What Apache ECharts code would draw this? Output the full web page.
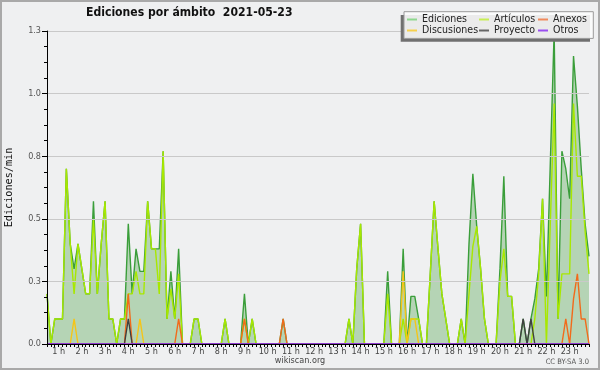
<!DOCTYPE html>
<html><head><meta charset="utf-8">
<script src="https://cdn.jsdelivr.net/npm/echarts@6/dist/echarts.min.js"></script>
<style>html,body{margin:0;padding:0;background:#eff0f1}#c{width:600px;height:370px}</style>
</head><body><div id="c"></div>
<script>
// x-axis tick labels (one per hour, centred on the half hour)
const hourLabels = ['1 h','2 h','3 h','4 h','5 h','6 h','7 h','8 h','9 h','10 h','11 h','12 h',
  '13 h','14 h','15 h','16 h','17 h','18 h','19 h','20 h','21 h','22 h','23 h'];
const slotCount = 141; // 10-minute slots from 00:00 to 23:20
const slots = [];
for (let i = 0; i < slotCount; i++) {
  const m = i * 10;
  slots.push(String(Math.floor(m / 60)).padStart(2, '0') + ':' + String(m % 60).padStart(2, '0'));
}

const ediciones = [
  0.2, 0, 0.1, 0.1, 0.1, 0.7, 0.4, 0.3, 0.4, 0.3,
  0.2, 0.2, 0.57, 0.2, 0.4, 0.57, 0.1, 0.1, 0, 0.1,
  0.1, 0.48, 0.2, 0.38, 0.29, 0.29, 0.57, 0.38, 0.38, 0.38,
  0.77, 0.1, 0.29, 0.1, 0.38, 0, 0, 0, 0.1, 0.1,
  0, 0, 0, 0, 0, 0, 0.1, 0, 0, 0,
  0, 0.2, 0, 0.1, 0, 0, 0, 0, 0, 0,
  0, 0.1, 0, 0, 0, 0, 0, 0, 0, 0,
  0, 0, 0, 0, 0, 0, 0, 0, 0.1, 0,
  0.3, 0.48, 0, 0, 0, 0, 0, 0, 0.29, 0,
  0, 0, 0.38, 0, 0.19, 0.19, 0.1, 0, 0, 0.28,
  0.57, 0.38, 0.2, 0.1, 0, 0, 0, 0.1, 0, 0.4,
  0.68, 0.47, 0.3, 0.1, 0, 0, 0, 0.3, 0.67, 0.19,
  0.19, 0, 0, 0.1, 0, 0.1, 0.18, 0.3, 0.58, 0.19,
  0.72, 1.25, 0.1, 0.77, 0.7, 0.58, 1.15, 0.95, 0.7, 0.48,
  0.35
];
const articulos = [
  0.2, 0, 0.1, 0.1, 0.1, 0.7, 0.4, 0.2, 0.4, 0.3,
  0.2, 0.2, 0.5, 0.2, 0.4, 0.57, 0.1, 0.1, 0, 0.1,
  0.1, 0.2, 0.2, 0.29, 0.2, 0.2, 0.57, 0.38, 0.38, 0.2,
  0.77, 0.1, 0.22, 0.1, 0.28, 0, 0, 0, 0.1, 0.1,
  0, 0, 0, 0, 0, 0, 0.1, 0, 0, 0,
  0, 0.1, 0, 0.1, 0, 0, 0, 0, 0, 0,
  0, 0, 0, 0, 0, 0, 0, 0, 0, 0,
  0, 0, 0, 0, 0, 0, 0, 0, 0.1, 0,
  0.3, 0.48, 0, 0, 0, 0, 0, 0, 0.2, 0,
  0, 0, 0.1, 0, 0.1, 0.1, 0.1, 0, 0, 0.28,
  0.57, 0.38, 0.2, 0.1, 0, 0, 0, 0.1, 0, 0.2,
  0.39, 0.47, 0.3, 0.1, 0, 0, 0, 0.25, 0.38, 0.19,
  0.19, 0, 0, 0, 0, 0, 0.1, 0.28, 0.58, 0,
  0.48, 0.96, 0.1, 0.28, 0.28, 0.28, 0.96, 0.67, 0.67, 0.45,
  0.28
];
const anexos = [
  0, 0, 0, 0, 0, 0, 0, 0, 0, 0,
  0, 0, 0, 0, 0, 0, 0, 0, 0, 0,
  0, 0.2, 0, 0, 0, 0, 0, 0, 0, 0,
  0, 0, 0, 0, 0.1, 0, 0, 0, 0, 0,
  0, 0, 0, 0, 0, 0, 0, 0, 0, 0,
  0, 0.1, 0, 0, 0, 0, 0, 0, 0, 0,
  0, 0.1, 0, 0, 0, 0, 0, 0, 0, 0,
  0, 0, 0, 0, 0, 0, 0, 0, 0, 0,
  0, 0, 0, 0, 0, 0, 0, 0, 0, 0,
  0, 0, 0, 0, 0, 0, 0, 0, 0, 0,
  0, 0, 0, 0, 0, 0, 0, 0, 0, 0,
  0, 0, 0, 0, 0, 0, 0, 0, 0, 0,
  0, 0, 0, 0, 0, 0, 0, 0, 0, 0,
  0, 0, 0, 0, 0.1, 0, 0.18, 0.28, 0.1, 0.1,
  0
];
const discusiones = [
  0, 0, 0, 0, 0, 0, 0, 0.1, 0, 0,
  0, 0, 0, 0, 0, 0, 0, 0, 0, 0,
  0, 0, 0, 0, 0.1, 0, 0, 0, 0, 0,
  0, 0, 0, 0, 0, 0, 0, 0, 0, 0,
  0, 0, 0, 0, 0, 0, 0, 0, 0, 0,
  0, 0, 0, 0, 0, 0, 0, 0, 0, 0,
  0, 0, 0, 0, 0, 0, 0, 0, 0, 0,
  0, 0, 0, 0, 0, 0, 0, 0, 0, 0,
  0, 0, 0, 0, 0, 0, 0, 0, 0, 0,
  0, 0, 0.29, 0, 0.1, 0.1, 0, 0, 0, 0,
  0, 0, 0, 0, 0, 0, 0, 0, 0, 0,
  0, 0, 0, 0, 0, 0, 0, 0, 0, 0,
  0, 0, 0, 0, 0, 0, 0, 0, 0, 0,
  0, 0, 0, 0, 0, 0, 0, 0, 0, 0,
  0
];
const proyecto = [
  0, 0, 0, 0, 0, 0, 0, 0, 0, 0,
  0, 0, 0, 0, 0, 0, 0, 0, 0, 0,
  0, 0.1, 0, 0, 0, 0, 0, 0, 0, 0,
  0, 0, 0, 0, 0, 0, 0, 0, 0, 0,
  0, 0, 0, 0, 0, 0, 0, 0, 0, 0,
  0, 0, 0, 0, 0, 0, 0, 0, 0, 0,
  0, 0, 0, 0, 0, 0, 0, 0, 0, 0,
  0, 0, 0, 0, 0, 0, 0, 0, 0, 0,
  0, 0, 0, 0, 0, 0, 0, 0, 0, 0,
  0, 0, 0, 0, 0, 0, 0, 0, 0, 0,
  0, 0, 0, 0, 0, 0, 0, 0, 0, 0,
  0, 0, 0, 0, 0, 0, 0, 0, 0, 0,
  0, 0, 0, 0.1, 0, 0.1, 0, 0, 0, 0,
  0, 0, 0, 0, 0, 0, 0, 0, 0, 0,
  0
];
const otros = [
  0, 0, 0, 0, 0, 0, 0, 0, 0, 0,
  0, 0, 0, 0, 0, 0, 0, 0, 0, 0,
  0, 0, 0, 0, 0, 0, 0, 0, 0, 0,
  0, 0, 0, 0, 0, 0, 0, 0, 0, 0,
  0, 0, 0, 0, 0, 0, 0, 0, 0, 0,
  0, 0, 0, 0, 0, 0, 0, 0, 0, 0,
  0, 0, 0, 0, 0, 0, 0, 0, 0, 0,
  0, 0, 0, 0, 0, 0, 0, 0, 0, 0,
  0, 0, 0, 0, 0, 0, 0, 0, 0, 0,
  0, 0, 0, 0, 0, 0, 0, 0, 0, 0,
  0, 0, 0, 0, 0, 0, 0, 0, 0, 0,
  0, 0, 0, 0, 0, 0, 0, 0, 0, 0,
  0, 0, 0, 0, 0, 0, 0, 0, 0, 0,
  0, 0, 0, 0, 0, 0, 0, 0, 0, 0,
  0
];

const font = "'DejaVu Sans Condensed','DejaVu Sans',sans-serif";
const chart = echarts.init(document.getElementById('c'), null, {renderer: 'canvas'});

function line(name, data, color, extra) {
  return Object.assign({
    name: name, type: 'line', data: data, symbol: 'none', showSymbol: false,
    lineStyle: {color: color, width: 1.4}, itemStyle: {color: color}, z: 3,
    emphasis: {disabled: true}
  }, extra || {});
}

const legendBase = {
  orient: 'vertical', top: 14, padding: 0, itemGap: 0, itemWidth: 10, itemHeight: 2,
  icon: 'rect', selectedMode: false, z: 20,
  textStyle: {fontFamily: font, fontSize: 10.5, color: '#222', lineHeight: 10}
};
function li(name, color) {
  return {name: name, itemStyle: {color: color}, lineStyle: {color: color, width: 1}};
}

chart.setOption({
  animation: false,
  backgroundColor: '#eff0f1',
  title: {
    text: 'Ediciones por ámbito  2021-05-23', left: 86, top: 7, padding: 0,
    textStyle: {fontFamily: font, fontSize: 12.1, fontWeight: 'bold', color: '#111'}
  },
  grid: {left: 47, right: 11, top: 31, bottom: 26, containLabel: false, outerBoundsMode: 'none'},
  xAxis: {
    type: 'category', data: slots, boundaryGap: false, z: 10,
    axisLine: {lineStyle: {color: '#000', width: 1}},
    axisTick: {interval: 0, length: 3, lineStyle: {color: '#000'}},
    axisLabel: {
      interval: function (i) { return (i + 3) % 6 === 0; },
      formatter: function (v, i) { return hourLabels[(i + 3) / 6 - 1]; },
      margin: 3, color: '#444', fontSize: 9, fontFamily: font
    },
    splitLine: {show: false}
  },
  yAxis: {
    type: 'value', min: 0, max: 1.25, interval: 0.25, z: 10,
    name: 'Ediciones/min', nameLocation: 'middle', nameGap: 33,
    nameTextStyle: {fontFamily: "'DejaVu Sans Mono',monospace", fontSize: 10.2, color: '#111'},
    axisLine: {show: true, lineStyle: {color: '#000'}},
    axisTick: {show: true, length: 5, lineStyle: {color: '#000'}},
    minorTick: {show: true, splitNumber: 4, length: 3, lineStyle: {color: '#000'}},
    axisLabel: {formatter: function (v) { return v.toFixed(1); }, margin: 6, color: '#555', fontSize: 9, fontFamily: font},
    splitLine: {lineStyle: {color: '#c9c9c9', width: 1}}
  },
  legend: [
    Object.assign({}, legendBase, {left: 407, data: [li('Ediciones', '#8fd88f'), li('Discusiones', '#f6d04d')]}),
    Object.assign({}, legendBase, {left: 479, data: [li('Artículos', '#c8ee55'), li('Proyecto', '#666666')]}),
    Object.assign({}, legendBase, {left: 538, data: [li('Anexos', '#f08a5d'), li('Otros', '#9a4ff0')]})
  ],
  series: [
    line('Ediciones', ediciones, '#3a9e3a', {areaStyle: {color: 'rgba(76,161,71,0.5)'}}),
    line('Artículos', articulos, '#a8e800'),
    line('Anexos', anexos, '#f26a1b'),
    line('Discusiones', discusiones, '#f5c518'),
    line('Proyecto', proyecto, '#404040'),
    line('Otros', otros, '#9b30ff')
  ],
  graphic: [
    {type: 'rect', z: 15, shape: {x: 400.7, y: 15, width: 189.3, height: 26.7}, style: {fill: '#707070'}},
    {type: 'rect', z: 16, shape: {x: 404, y: 11.7, width: 189.3, height: 26.7},
     style: {fill: 'rgba(252,252,252,0.88)', stroke: '#9a9a9a', lineWidth: 1}},
    {type: 'text', z: 30, x: 300, y: 361,
     style: {text: 'wikiscan.org', fill: '#444', font: "9px 'DejaVu Sans Condensed','DejaVu Sans',sans-serif", textAlign: 'center', textVerticalAlign: 'middle'}},
    {type: 'text', z: 30, x: 589, y: 362,
     style: {text: 'CC BY-SA 3.0', fill: '#555', font: "7.5px 'DejaVu Sans Condensed','DejaVu Sans',sans-serif", textAlign: 'right', textVerticalAlign: 'middle'}},
    {type: 'rect', z: 100, silent: true, shape: {x: 1, y: 1, width: 598, height: 368}, style: {fill: 'none', stroke: '#a9a9a9', lineWidth: 2}}
  ]
});
</script>
</body></html>
